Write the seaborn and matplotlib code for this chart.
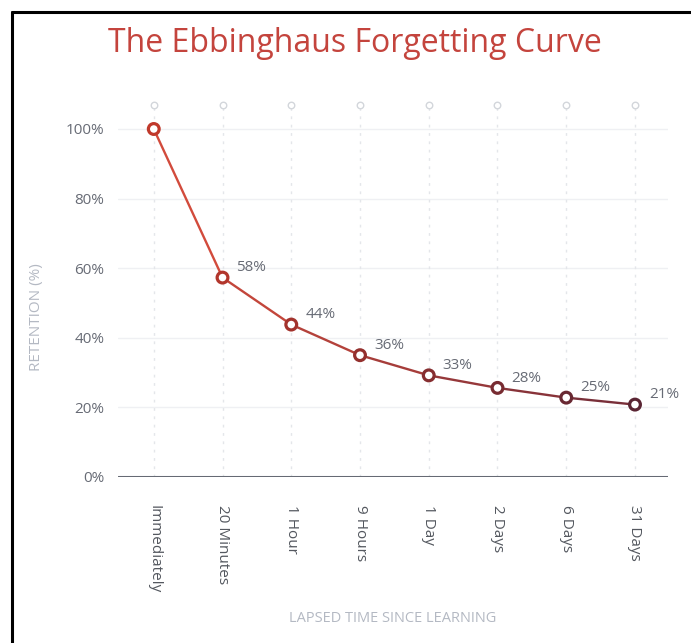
import matplotlib
matplotlib.use("Agg")
import matplotlib.pyplot as plt
import numpy as np
import pandas as pd
import seaborn as sns
from matplotlib.lines import Line2D

# dados
intervalos = ['Immediately', '20 Minutes', '1 Hour', '9 Hours', '1 Day', '2 Days', '6 Days', '31 Days']
retencao = [100, 57.3, 43.8, 35.0, 29.2, 25.6, 22.8, 20.8]
rotulos = ['', '58%', '44%', '36%', '33%', '28%', '25%', '21%']
yticks = [0, 20, 40, 60, 80, 100]

df = pd.DataFrame({'intervalo': intervalos, 'retencao': retencao, 'rotulo': rotulos})
df['pos'] = np.arange(len(df))

sns.set_theme(style="white")
plt.rcParams['font.family'] = ['Open Sans', 'DejaVu Sans']

fig = plt.figure(figsize=(6.91, 6.43), dpi=100)
ax = fig.add_axes([0.1708, 0.2582, 0.7959, 0.5953])

cinza_txt = '#676b75'
cinza_claro = '#b4b9c3'

# cores em degradê do vermelho para o bordô
cores_linha = sns.blend_palette(['#d24b3c', '#6a2a38'], len(df))
cores_marc = sns.blend_palette(['#c0392b', '#5a2533'], len(df))

topo = 107

# grade
for y in yticks[1:]:
    ax.axhline(y, color='#eff0f3', lw=1, zorder=0)
ax.vlines(df['pos'], 0, topo, colors='#e4e6ea', lw=1, linestyles=(0, (2, 4)), zorder=0)
sns.scatterplot(x=df['pos'], y=[topo] * len(df), ax=ax, s=22, color='white',
                edgecolor='#d3d6db', linewidth=1, clip_on=False, zorder=2, legend=False)
ax.axhline(0, color='#666a74', lw=2.2, zorder=1)

# curva em segmentos com degradê
for i in range(len(df) - 1):
    seg = df.iloc[i:i + 2]
    sns.lineplot(x=seg['pos'], y=seg['retencao'], color=cores_linha[i], lw=1.7, ax=ax, zorder=3)

sns.scatterplot(data=df, x='pos', y='retencao', hue='intervalo', palette=cores_marc,
                s=60, linewidth=2.3, ax=ax, zorder=4, legend=False)
col = ax.collections[-1]
col.set_edgecolors(cores_marc)
col.set_facecolors('white')

for _, r in df.iterrows():
    if r['rotulo']:
        ax.annotate(r['rotulo'], (r['pos'], r['retencao']), xytext=(10, 7),
                    textcoords='offset points', fontsize=11, color=cinza_txt, ha='left', va='center')

ax.set_xlim(-0.52, 7.48)
ax.set_ylim(0, 110)
ax.set_xticks(df['pos'])
ax.set_xticklabels(intervalos, rotation=270, fontsize=11, color='#54585f', va='top', ha='center')
ax.set_yticks(yticks)
ax.set_yticklabels([f'{v}%' for v in yticks], fontsize=11, color=cinza_txt)
ax.tick_params(axis='both', length=0)
ax.tick_params(axis='x', pad=20)
ax.tick_params(axis='y', pad=10)
ax.set_xlabel('LAPSED TIME SINCE LEARNING', fontsize=10.5, color=cinza_claro, labelpad=13)
ax.set_ylabel('RETENTION (%)', fontsize=11, color=cinza_claro)
ax.yaxis.set_label_coords(-0.135, 0.418)
for s in ax.spines.values():
    s.set_visible(False)

fig.text(355 / 691, 1 - 44 / 643, 'The Ebbinghaus Forgetting Curve', ha='center', va='center',
         fontsize=23, color='#c4443d')

# moldura preta
fig.add_artist(Line2D([12 / 691, 12 / 691], [0, 1 - 12 / 643], color='black', lw=2.2))
fig.add_artist(Line2D([12 / 691, 1], [1 - 12 / 643, 1 - 12 / 643], color='black', lw=2.2))

fig.savefig('out.png', dpi=100, facecolor='white')
